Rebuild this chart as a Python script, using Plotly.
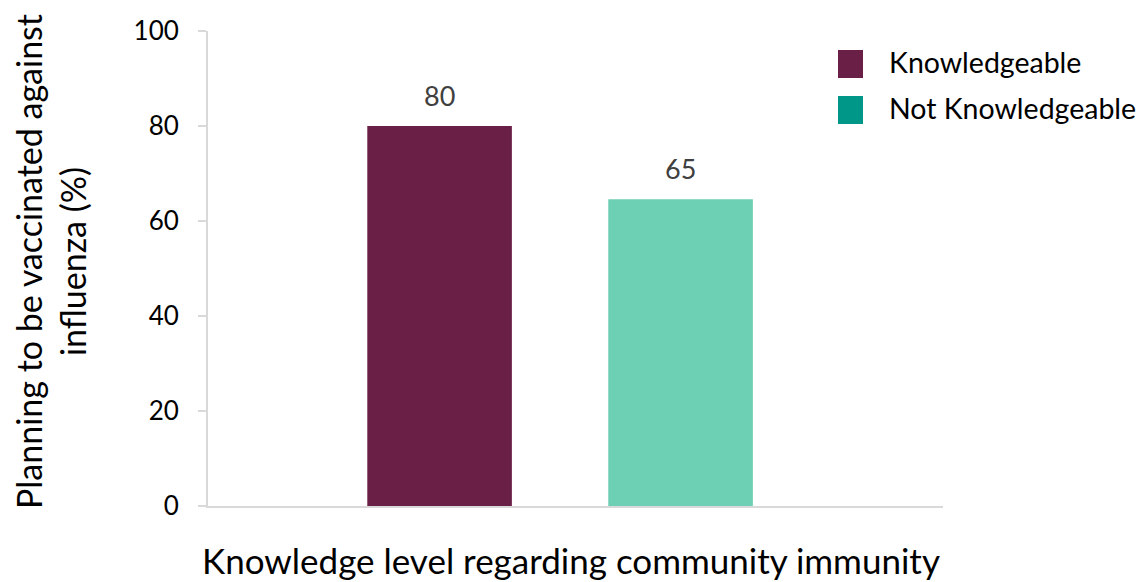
import plotly.graph_objects as go

categories = ["Knowledgeable", "Not Knowledgeable"]
values = [80, 64.6]
labels = ["80", "65"]
bar_colors = ["#6A2046", "#6DCFB3"]
legend_colors = ["#6A2046", "#009688"]
y_ticks = [0, 20, 40, 60, 80, 100]

FONT = "Lato"
OFF = 8  # page body margin offset
FW, FH = 1145 - OFF, 582 - OFF

fig = go.Figure()
fig.add_trace(go.Bar(
    x=[0, 1], y=values, width=0.6,
    marker=dict(color=bar_colors, line=dict(width=0)),
    showlegend=False, hoverinfo="skip",
))

# data labels
for i, (v, lab) in enumerate(zip(values, labels)):
    fig.add_annotation(x=i, y=v, text=lab, showarrow=False, yanchor="bottom",
                       yshift=12, font=dict(family=FONT, size=27, color="#404040"))

# plot area in screen pixels
L, R, T, B = 208, 943, 31, 506
W, H = R - L, B - T
def px(x): return (x - L) / W
def py(y): return (B - y) / H

sq = [(50, 78), (96, 124)]
for (y0, y1), name, col in zip(sq, categories, legend_colors):
    fig.add_shape(type="rect", xref="paper", yref="paper",
                  x0=px(838), x1=px(863), y0=py(y1), y1=py(y0),
                  fillcolor=col, line=dict(width=0))
    fig.add_annotation(xref="paper", yref="paper", x=px(887), y=py((y0 + y1) / 2 - 2),
                       xanchor="left", yanchor="middle", text=name, showarrow=False,
                       font=dict(family=FONT, size=28.5, color="#000000"))

# axis titles
fig.add_annotation(xref="paper", yref="paper", x=px(50), y=py(262), textangle=-90,
                   text="Planning to be vaccinated against<br>influenza (%)", showarrow=False,
                   xanchor="center", yanchor="middle",
                   font=dict(family=FONT, size=34, color="#000000"))
fig.add_annotation(xref="paper", yref="paper", x=px(571), y=py(560),
                   text="Knowledge level regarding community immunity", showarrow=False,
                   xanchor="center", yanchor="middle",
                   font=dict(family=FONT, size=35, color="#000000"))

fig.update_layout(
    width=FW, height=FH,
    margin=dict(l=L - OFF, r=FW - (R - OFF), t=T - OFF, b=FH - (B - OFF)),
    plot_bgcolor="white", paper_bgcolor="white",
    showlegend=False,
    xaxis=dict(range=[-0.961, 2.089], showticklabels=False, ticks="",
               showgrid=False, zeroline=False, showline=True,
               linecolor="#D9D9D9", linewidth=2, fixedrange=True),
    yaxis=dict(range=[0, 100], tickvals=y_ticks, ticks="outside", ticklen=8,
               tickcolor="#D9D9D9", tickwidth=2, showgrid=False, zeroline=False,
               showline=True, linecolor="#D9D9D9", linewidth=2, automargin=False,
               ticklabelstandoff=14,
               tickfont=dict(family=FONT, size=26, color="#000000")),
)

fig.write_html("out.html")
